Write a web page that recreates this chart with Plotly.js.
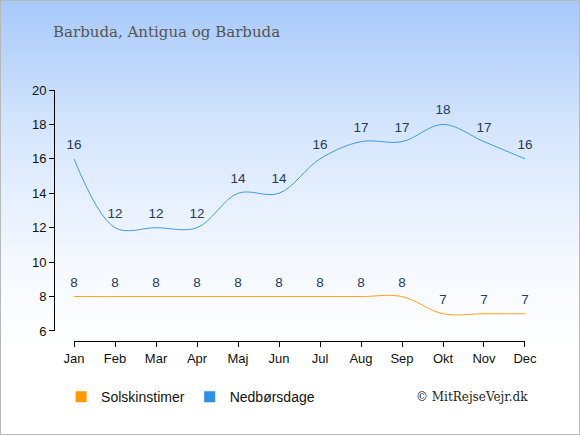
<!DOCTYPE html>
<html><head><meta charset="utf-8">
<script src="https://cdn.plot.ly/plotly-3.0.1.min.js"></script>
<style>
html,body{margin:0;padding:0;}
#wrap{width:578px;height:433px;border:1px solid #b8b8b8;background:linear-gradient(to bottom,#a7c9fb 0%,#d6e6fd 30%,#f4f8ff 60%,#ffffff 80%);}
#chart{width:578px;height:433px;}
</style></head><body>
<div id="wrap"><div id="chart"></div></div>
<script>
var months = ["Jan","Feb","Mar","Apr","Maj","Jun","Jul","Aug","Sep","Okt","Nov","Dec"];
var solskinstimer = [8,8,8,8,8,8,8,8,8,7,7,7];
var nedboersdage = [16,12,12,12,14,14,16,17,17,18,17,16];
var seriesNames = ["Solskinstimer","Nedbørsdage"];
var orange = "#ffa31a", blue = "#3d9be9";
var labelFont = {family:"Liberation Sans, Arial, sans-serif", size:13.5, color:"#233a5c"};
var hiddenMarker = {size:9, color:"rgba(0,0,0,0)"};
var traces = [
 {x:months, y:solskinstimer, mode:"lines+markers+text", text:solskinstimer.map(String), textposition:"top center", textfont:labelFont,
  marker:hiddenMarker, line:{color:orange,width:1,shape:"spline"}, showlegend:false, hoverinfo:"skip", cliponaxis:false},
 {x:months, y:nedboersdage, mode:"lines+markers+text", text:nedboersdage.map(String), textposition:"top center", textfont:labelFont,
  marker:hiddenMarker, line:{color:blue,width:1,shape:"spline"}, showlegend:false, hoverinfo:"skip", cliponaxis:false},
 {x:[null], y:[null], mode:"markers", name:seriesNames[0], marker:{symbol:"square",size:11,color:"#ff9900"}},
 {x:[null], y:[null], mode:"markers", name:seriesNames[1], marker:{symbol:"square",size:11,color:"#2e8fe3"}}
];
var tickFont = {family:"Liberation Sans, Arial, sans-serif", size:13, color:"#111"};
var layout = {
 width:578, height:433,
 paper_bgcolor:"rgba(0,0,0,0)", plot_bgcolor:"rgba(0,0,0,0)",
 margin:{l:53,r:54,t:89,b:93},
 title:{text:"Barbuda, Antigua og Barbuda", x:0, xref:"paper", xanchor:"left", y:0.94, yref:"container",
   font:{family:"DejaVu Serif, Georgia, serif", size:15, color:"#555"}, pad:{l:-1}},
 xaxis:{type:"category", categoryorder:"array", categoryarray:months, range:[0,11], domain:[0.0425,1],
   anchor:"free", position:0, showline:true, linecolor:"#000", linewidth:1, ticks:"outside", ticklen:5, tickcolor:"#000",
   showgrid:false, zeroline:false, tickfont:tickFont, fixedrange:true},
 yaxis:{range:[6,20], domain:[0.04,1], dtick:2, tick0:6, anchor:"free", position:0, showline:true, linecolor:"#000", linewidth:1,
   ticks:"outside", ticklen:5, tickcolor:"#000", showgrid:false, zeroline:false, tickfont:tickFont, fixedrange:true},
 legend:{orientation:"h", x:0.104, xref:"container", y:0.085, yref:"container", yanchor:"middle",
   font:{family:"Liberation Sans, Arial, sans-serif", size:14, color:"#111"}, itemwidth:30, tracegroupgap:0},
 annotations:[{text:"© MitRejseVejr.dk", xref:"paper", yref:"paper", x:1.01, y:-0.225, xanchor:"right", yanchor:"middle",
   showarrow:false, font:{family:"DejaVu Serif, Georgia, serif", size:12, color:"#222"}}],
 showlegend:true
};
Plotly.newPlot("chart", traces, layout, {displayModeBar:false, staticPlot:true});
</script></body></html>
